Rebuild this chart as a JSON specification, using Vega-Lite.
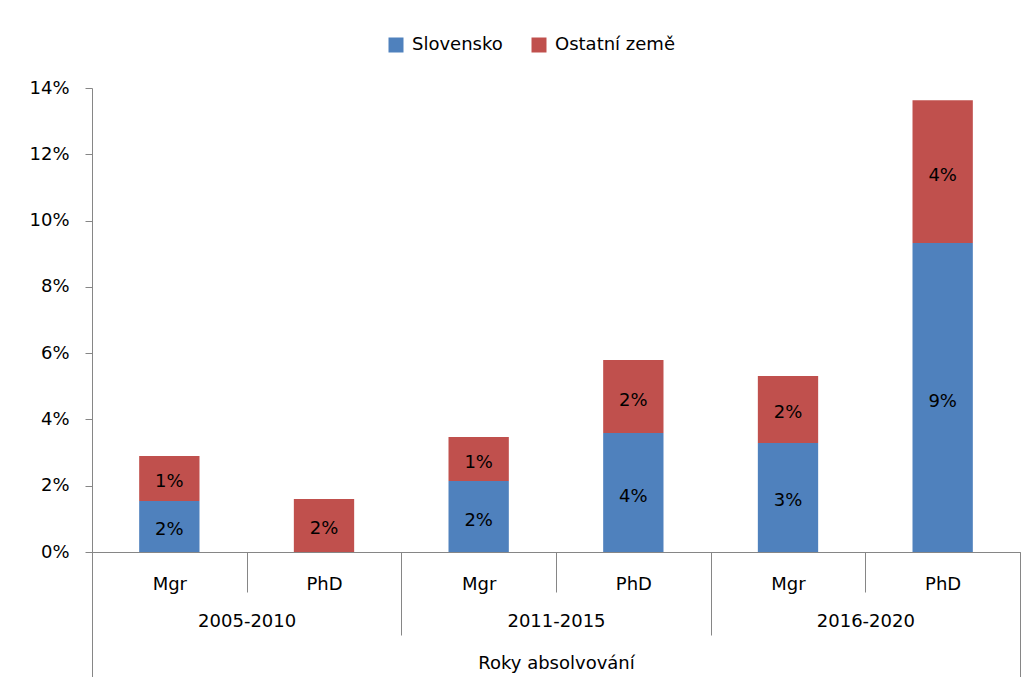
{
  "$schema": "https://vega.github.io/schema/vega-lite/v6.json",
  "width": 928,
  "height": 464,
  "autosize": "none",
  "padding": {"left": 92, "top": 88, "right": 14, "bottom": 125},
  "background": "white",
  "config": {
    "view": {"stroke": null},
    "font": "DejaVu Sans",
    "axis": {
      "labelFont": "DejaVu Sans", "labelFontSize": 18, "labelColor": "#000",
      "domainColor": "#868686", "tickColor": "#868686", "grid": false,
      "titleFont": "DejaVu Sans", "titleFontSize": 18, "titleFontWeight": "normal", "titleColor": "#000"
    },
    "legend": {
      "orient": "none", "legendX": 295, "legendY": -52, "direction": "horizontal",
      "symbolType": "square", "symbolSize": 225, "symbolStrokeWidth": 0, "symbolOpacity": 1,
      "labelFont": "DejaVu Sans", "labelFontSize": 18, "labelColor": "#000",
      "columnPadding": 27, "labelOffset": 7
    }
  },
  "data": {"values": [
    {"period": "2005-2010", "degree": "Mgr", "country": "Slovensko", "value": 0.0154},
    {"period": "2005-2010", "degree": "Mgr", "country": "Ostatní země", "value": 0.0136},
    {"period": "2005-2010", "degree": "PhD", "country": "Slovensko", "value": 0.0},
    {"period": "2005-2010", "degree": "PhD", "country": "Ostatní země", "value": 0.016},
    {"period": "2011-2015", "degree": "Mgr", "country": "Slovensko", "value": 0.0214},
    {"period": "2011-2015", "degree": "Mgr", "country": "Ostatní země", "value": 0.0133},
    {"period": "2011-2015", "degree": "PhD", "country": "Slovensko", "value": 0.0359},
    {"period": "2011-2015", "degree": "PhD", "country": "Ostatní země", "value": 0.022},
    {"period": "2016-2020", "degree": "Mgr", "country": "Slovensko", "value": 0.0329},
    {"period": "2016-2020", "degree": "Mgr", "country": "Ostatní země", "value": 0.0202},
    {"period": "2016-2020", "degree": "PhD", "country": "Slovensko", "value": 0.0932},
    {"period": "2016-2020", "degree": "PhD", "country": "Ostatní země", "value": 0.0431}
  ]},
  "layer": [
    {
      "transform": [
        {"calculate": "datum.period + ' ' + datum.degree", "as": "column"},
        {"stack": "value", "groupby": ["column"], "sort": [{"field": "country", "order": "descending"}], "as": ["v0", "v1"]},
        {"calculate": "(datum.v0 + datum.v1) / 2", "as": "mid"}
      ],
      "layer": [
        {
          "mark": {"type": "bar", "width": {"band": 0.39}},
          "encoding": {
            "x": {"field": "column", "type": "nominal",
              "scale": {"paddingInner": 0, "paddingOuter": 0},
              "axis": {"orient": "bottom", "labelExpr": "split(datum.value, ' ')[1]", "tickBand": "extent",
                "tickSize": 40, "labelPadding": -17, "title": null, "labelAngle": 0}},
            "y": {"field": "v0", "type": "quantitative",
              "scale": {"domain": [0, 0.14], "nice": false, "zero": true},
              "axis": {"format": ".0%", "values": [0, 0.02, 0.04, 0.06, 0.08, 0.1, 0.12, 0.14], "title": null,
                "tickSize": 7, "labelPadding": 16}},
            "y2": {"field": "v1"},
            "color": {"field": "country", "type": "nominal", "title": null,
              "scale": {"domain": ["Slovensko", "Ostatní země"], "range": ["#4F81BD", "#C0504D"]}}
          }
        },
        {
          "transform": [{"filter": "datum.value > 0"}],
          "mark": {"type": "text", "fontSize": 18, "color": "#000", "baseline": "middle", "dy": 4},
          "encoding": {
            "x": {"field": "column", "type": "nominal"},
            "y": {"field": "mid", "type": "quantitative", "scale": {"domain": [0, 0.14], "nice": false, "zero": true}},
            "text": {"field": "value", "type": "quantitative", "format": ".0%"}
          }
        }
      ]
    },
    {
      "mark": {"type": "point", "opacity": 0},
      "encoding": {
        "x": {"field": "period", "type": "nominal",
          "scale": {"paddingInner": 0, "paddingOuter": 0},
          "axis": {"orient": "bottom", "tickBand": "extent", "tickSize": 83, "labelPadding": -23,
            "domain": false, "title": "Roky absolvování", "titlePadding": 19, "labelAngle": 0}}
      }
    },
    {
      "mark": {"type": "point", "opacity": 0},
      "encoding": {
        "x": {"datum": "all", "type": "nominal",
          "scale": {"paddingInner": 0, "paddingOuter": 0},
          "axis": {"orient": "bottom", "tickBand": "extent", "tickSize": 130, "labels": false,
            "domain": false, "title": null}}
      }
    }
  ],
  "resolve": {"scale": {"x": "independent"}, "axis": {"x": "independent"}}
}
